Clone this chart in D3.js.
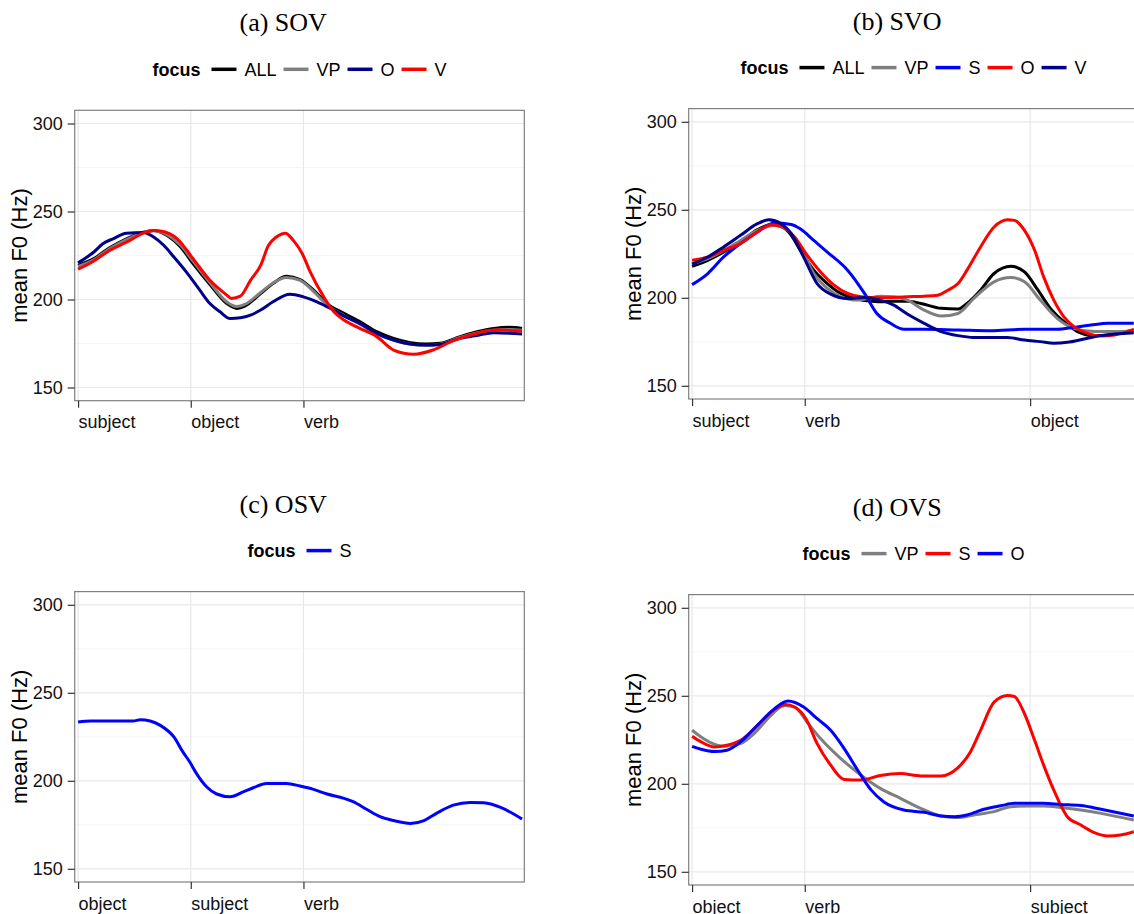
<!DOCTYPE html>
<html>
<head>
<meta charset="utf-8">
<script src="https://cdn.jsdelivr.net/npm/d3@7"></script>
<style>
  body { margin: 0; background: #fff; }
  svg { display: block; }
</style>
</head>
<body>
<div id="chart"></div>
<script>
// mean F0 contours, x = normalized word position, y = Hz
const yTicks = [150, 200, 250, 300];
const yMinor = [175, 225, 275];

// (a) SOV
const sovTickPos = [0, 1, 2];
const sovTickLabels = ["subject", "object", "verb"];
const sovAll = [[0,219.4],[0.14,223.2],[0.28,229.4],[0.43,234.5],[0.58,238.3],[0.67,239.2],[0.79,236.4],[0.91,229.8],[1.02,220.4],[1.17,208.5],[1.32,197.7],[1.41,194.9],[1.48,196.2],[1.62,203.4],[1.73,209.1],[1.85,213.2],[1.97,211.3],[2.09,205.3],[2.21,197.7],[2.36,192.1],[2.5,187.4],[2.65,181.7],[2.8,177.9],[2.95,175.5],[3.09,174.7],[3.21,175.1],[3.39,178.9],[3.54,181.7],[3.69,183.6],[3.83,184.2],[3.94,183.6]];
const sovVP = [[0,218.8],[0.14,222.6],[0.28,228.8],[0.43,234],[0.58,238],[0.67,239],[0.79,236.8],[0.91,230.8],[1.02,221.8],[1.17,209.6],[1.32,198.6],[1.41,196],[1.48,197.2],[1.62,204],[1.73,209.4],[1.85,212.5],[1.97,210.8],[2.09,204.6],[2.21,196.8],[2.36,190.8],[2.5,186],[2.65,180.4],[2.8,176.8],[2.95,174.6],[3.09,173.9],[3.21,174.6],[3.39,178.4],[3.54,181],[3.69,182.6],[3.83,183],[3.94,182.6]];
const sovO = [[0,220.8],[0.14,227],[0.22,231.7],[0.31,234.5],[0.43,237.7],[0.58,238.1],[0.67,235.5],[0.76,230.8],[0.85,224.2],[0.96,215.7],[1.08,205.3],[1.17,197.7],[1.26,193],[1.35,189.2],[1.44,189.6],[1.53,191.1],[1.62,194],[1.73,198.7],[1.88,203],[2.0,201.5],[2.12,198.7],[2.24,194.9],[2.36,190.6],[2.5,186.4],[2.65,180.8],[2.8,177],[2.95,174.7],[3.09,174.2],[3.21,174.5],[3.39,177.9],[3.54,179.6],[3.69,181.1],[3.94,180.4]];
const sovV = [[0,217.2],[0.14,221.9],[0.28,227.9],[0.43,232.6],[0.58,237.7],[0.67,239.2],[0.73,238.9],[0.88,234.5],[1.02,223.2],[1.17,210.9],[1.32,202.5],[1.36,200.6],[1.44,201.9],[1.53,210.9],[1.62,219.4],[1.69,230.8],[1.76,235.5],[1.84,237.7],[1.91,233.6],[1.99,226],[2.06,215.7],[2.18,201.5],[2.27,193],[2.36,188.3],[2.5,183.6],[2.65,178.9],[2.8,171.3],[2.98,168.9],[3.15,171.3],[3.33,176.6],[3.54,180.8],[3.69,182.6],[3.94,182.1]];

// (b) SVO
const svoTickPos = [0, 1, 3];
const svoTickLabels = ["subject", "verb", "object"];
const svoAll = [[0,217.9],[0.14,221.3],[0.28,226],[0.43,231.7],[0.58,238.7],[0.70,241.5],[0.79,240.6],[0.88,235.5],[0.96,227],[1.08,215.7],[1.20,208.1],[1.32,202.5],[1.44,199.6],[1.56,198.3],[1.67,197.7],[1.79,198.1],[1.91,198.1],[2.03,196.8],[2.21,194],[2.36,193.6],[2.44,196.8],[2.56,204.3],[2.68,213.8],[2.83,217.9],[2.95,214.7],[3.07,204.3],[3.18,194],[3.30,186.4],[3.42,180.8],[3.57,178.5],[3.69,178.9],[3.92,181.7]];
const svoVP = [[0,219.4],[0.14,222.3],[0.43,232.6],[0.58,238.3],[0.73,241.1],[0.85,238.3],[0.96,228.9],[1.08,213.8],[1.20,205.3],[1.32,200.6],[1.44,198.7],[1.56,199.6],[1.67,200.9],[1.79,200.6],[1.91,198.7],[2.06,193],[2.21,189.6],[2.36,191.1],[2.50,199.6],[2.68,209.1],[2.83,211.5],[2.95,209.1],[3.09,198.7],[3.24,188.3],[3.39,182.6],[3.57,180.8],[3.75,180.8],[3.92,181.3]];
const svoS = [[0,207.5],[0.14,213.8],[0.28,223.2],[0.43,230.8],[0.58,237.4],[0.73,242.5],[0.88,241.7],[0.96,239.2],[1.08,232.6],[1.20,226],[1.38,215.7],[1.53,202.5],[1.64,191.1],[1.76,185.5],[1.88,182.1],[2.06,182.1],[2.36,181.7],[2.65,181.3],[2.95,182.1],[3.24,182.1],[3.39,183.2],[3.54,184.5],[3.69,185.5],[3.92,185.5]];
const svoO = [[0,221.3],[0.14,223.2],[0.28,227],[0.43,230.8],[0.58,237.4],[0.70,241.5],[0.79,240.6],[0.91,234.5],[1.02,224.2],[1.14,214.7],[1.26,207.2],[1.38,202.5],[1.50,200.6],[1.67,200],[1.91,200.6],[2.06,200.9],[2.18,201.5],[2.27,204.3],[2.36,208.1],[2.44,215.7],[2.56,228.9],[2.68,240.2],[2.80,244.3],[2.86,244],[2.95,238.3],[3.04,227],[3.12,211.9],[3.21,198.7],[3.30,189.2],[3.39,183.6],[3.51,179.8],[3.63,178.3],[3.75,178.9],[3.92,182.1]];
const svoV = [[0,219.1],[0.14,223.2],[0.28,228.9],[0.43,235.5],[0.58,242.1],[0.68,244.3],[0.79,242.1],[0.88,236.4],[0.99,223.2],[1.11,208.1],[1.23,202.1],[1.38,199.6],[1.53,200.2],[1.67,198.7],[1.79,195.8],[1.91,190.8],[2.06,185.5],[2.21,180.8],[2.36,178.5],[2.50,177.5],[2.65,177.5],[2.80,177.4],[2.95,176],[3.09,175.1],[3.21,174.2],[3.33,174.7],[3.48,176.6],[3.63,178.5],[3.92,180.2]];

// (c) OSV
const osvTickPos = [0, 1, 2];
const osvTickLabels = ["object", "subject", "verb"];
const osvS = [[0,233.4],[0.11,234],[0.28,234],[0.49,234],[0.55,234.7],[0.64,234],[0.73,231.5],[0.85,224.9],[0.93,216.4],[0.99,210.8],[1.05,204.2],[1.14,196.6],[1.23,192.5],[1.35,190.9],[1.47,193.8],[1.56,196.2],[1.67,198.5],[1.85,198.5],[1.97,197],[2.09,195.1],[2.21,192.5],[2.36,190],[2.44,188.1],[2.56,183.8],[2.68,179.6],[2.80,177.4],[2.95,175.8],[3.07,177.4],[3.18,181.5],[3.33,186.2],[3.48,187.7],[3.60,187.5],[3.75,184.9],[3.94,178.3]];

// (d) OVS
const ovsTickPos = [0, 1, 3];
const ovsTickLabels = ["object", "verb", "subject"];
const ovsVP = [[0,230.4],[0.08,226.6],[0.17,223.2],[0.28,221.3],[0.43,222.8],[0.55,228.5],[0.70,238.9],[0.82,244.5],[0.91,243.6],[1.02,235.1],[1.14,225.7],[1.32,214.3],[1.50,204.9],[1.67,197.4],[1.85,191.7],[2.03,186],[2.21,181.7],[2.36,180.8],[2.50,182.3],[2.68,184.2],[2.83,187],[2.98,187.4],[3.12,187.4],[3.27,186.6],[3.45,185.1],[3.63,183.2],[3.92,179.4]];
const ovsS = [[0,227],[0.08,223.8],[0.20,220.9],[0.31,221.9],[0.43,224.7],[0.58,233.2],[0.70,240.8],[0.83,245.1],[0.91,243.6],[1.01,237],[1.11,222.8],[1.23,210.6],[1.35,202.5],[1.50,202.1],[1.67,204.7],[1.85,205.8],[2.03,204.5],[2.21,204.5],[2.36,209.2],[2.47,218.1],[2.56,230.4],[2.68,246.4],[2.80,250.2],[2.86,249.6],[2.95,239.8],[3.04,224.7],[3.12,210.6],[3.21,196.4],[3.33,181.3],[3.45,176.6],[3.57,172.3],[3.69,170.4],[3.80,170.9],[3.92,172.8]];
const ovsO = [[0,221.3],[0.08,219.6],[0.20,218.3],[0.31,219.1],[0.43,223.8],[0.58,233.2],[0.73,242.6],[0.85,247],[0.99,243.6],[1.11,237],[1.23,230.4],[1.35,220],[1.47,207.7],[1.59,196.4],[1.70,189.8],[1.88,185.1],[2.06,183.8],[2.21,181.7],[2.33,181.3],[2.44,182.3],[2.59,185.5],[2.74,187.5],[2.86,188.9],[3.12,188.9],[3.27,188.3],[3.45,187.7],[3.63,185.5],[3.92,181.7]];

const BLACK = "#000000", GREY = "#7f7f7f", NAVY = "#00008b", BLUE = "#0000ff", RED = "#ff0000";

const panels = [
  { title: "(a) SOV", left: 74.7, top: 110.3, ticks: sovTickPos, labels: sovTickLabels,
    series: [["ALL", sovAll, BLACK], ["VP", sovVP, GREY], ["O", sovO, NAVY], ["V", sovV, RED]] },
  { title: "(b) SVO", left: 688.7, top: 108.6, ticks: svoTickPos, labels: svoTickLabels,
    series: [["ALL", svoAll, BLACK], ["VP", svoVP, GREY], ["S", svoS, BLUE], ["O", svoO, RED], ["V", svoV, NAVY]] },
  { title: "(c) OSV", left: 74.7, top: 591.6, ticks: osvTickPos, labels: osvTickLabels,
    series: [["S", osvS, BLUE]] },
  { title: "(d) OVS", left: 688.7, top: 594.6, ticks: ovsTickPos, labels: ovsTickLabels,
    series: [["VP", ovsVP, GREY], ["S", ovsS, RED], ["O", ovsO, BLUE]] }
];

var w = 1134, h = 914;
var bw = 449.6, bh = 290.4;
var sans = "'Liberation Sans', Arial, Helvetica, sans-serif";
var serif = "'Liberation Serif', 'Times New Roman', serif";

var svg = d3.select("#chart").append("svg").attr("width", w).attr("height", h);

var x = d3.scaleLinear().domain([-0.03, 3.96]).range([0, bw]);
var y = d3.scaleLinear().domain([142.5, 307.5]).range([bh, 0]);

var line = d3.line()
  .x((d) => x(d[0]))
  .y((d) => y(d[1]))
  .curve(d3.curveMonotoneX);

panels.forEach(function (p, pi) {
  var g = svg.append("g").attr("transform", "translate(" + p.left + "," + p.top + ")");
  var clipId = "clip" + pi;
  g.append("clipPath").attr("id", clipId)
    .append("rect").attr("width", bw).attr("height", bh);

  // grid
  g.append("g").selectAll("line").data(yMinor).enter().append("line")
    .attr("x1", 0).attr("x2", bw)
    .attr("y1", (d) => y(d)).attr("y2", (d) => y(d))
    .attr("stroke", "#f5f5f5").attr("stroke-width", 1);
  g.append("g").selectAll("line").data(yTicks).enter().append("line")
    .attr("x1", 0).attr("x2", bw)
    .attr("y1", (d) => y(d)).attr("y2", (d) => y(d))
    .attr("stroke", "#e8e8e8").attr("stroke-width", 1.2);
  g.append("g").selectAll("line").data(p.ticks).enter().append("line")
    .attr("y1", 0).attr("y2", bh)
    .attr("x1", (d) => x(d)).attr("x2", (d) => x(d))
    .attr("stroke", "#e8e8e8").attr("stroke-width", 1.2);

  // lines
  g.append("g").attr("clip-path", "url(#" + clipId + ")")
    .selectAll("path").data(p.series).enter().append("path")
    .attr("d", (d) => line(d[1]))
    .attr("fill", "none")
    .attr("stroke", (d) => d[2])
    .attr("stroke-width", 3)
    .attr("stroke-linejoin", "round");

  // panel border
  g.append("rect").attr("width", bw).attr("height", bh)
    .attr("fill", "none").attr("stroke", "#7f7f7f").attr("stroke-width", 1.2);

  // y axis
  var yAxis = d3.axisLeft(y).tickValues(yTicks).tickSize(7).tickPadding(5);
  var ya = g.append("g").call(yAxis);
  ya.select(".domain").remove();
  ya.selectAll(".tick line").attr("stroke", "#333").attr("stroke-width", 1.2);
  ya.selectAll(".tick text").attr("fill", "#111")
    .style("font-family", sans).style("font-size", "18px");

  // x axis, labels hang to the right of each tick
  var xAxis = d3.axisBottom(x).tickValues(p.ticks)
    .tickFormat((d, i) => p.labels[i]).tickSize(7).tickPadding(8);
  var xa = g.append("g").attr("transform", "translate(0," + bh + ")").call(xAxis);
  xa.select(".domain").remove();
  xa.selectAll(".tick line").attr("stroke", "#333").attr("stroke-width", 1.2);
  xa.selectAll(".tick text").attr("fill", "#111").attr("text-anchor", "start")
    .style("font-family", sans).style("font-size", "18px");

  // y title
  g.append("text")
    .attr("transform", "translate(-55," + bh / 2 + ") rotate(-90)")
    .attr("text-anchor", "middle").attr("dy", "0.35em")
    .style("font-family", sans).style("font-size", "22px")
    .text("mean F0 (Hz)");

  // title
  g.append("text")
    .attr("x", 208.5).attr("y", -88).attr("dy", "0.35em")
    .attr("text-anchor", "middle")
    .style("font-family", serif).style("font-size", "26px")
    .text(p.title);

  // legend
  var lg = g.append("g").attr("transform", "translate(0," + -41 + ")");
  var lt = lg.append("text").attr("dy", "0.35em")
    .style("font-family", sans).style("font-size", "18px").style("font-weight", "bold")
    .text("focus");
  var pos = lt.node().getComputedTextLength() + 11;
  p.series.forEach(function (s, i) {
    if (i > 0) pos += 7;
    lg.append("line").attr("x1", pos).attr("x2", pos + 25)
      .attr("stroke", s[2]).attr("stroke-width", 3.5);
    pos += 33;
    var t = lg.append("text").attr("x", pos).attr("dy", "0.35em")
      .style("font-family", sans).style("font-size", "18px").text(s[0]);
    pos += t.node().getComputedTextLength();
  });
  lg.attr("transform", "translate(" + (bw / 2 - pos / 2) + "," + -41 + ")");
});
</script>
</body>
</html>
